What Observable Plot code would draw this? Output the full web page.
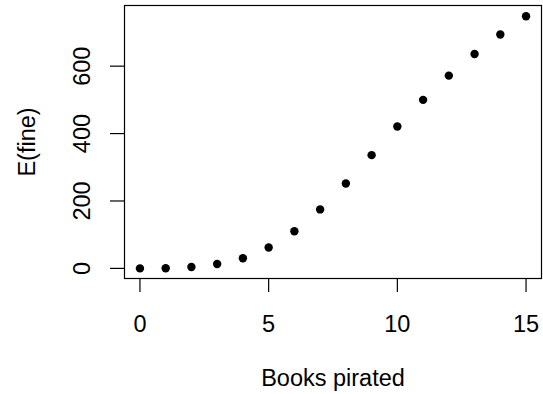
<!DOCTYPE html>
<html><head><meta charset="utf-8">
<script src="https://cdn.jsdelivr.net/npm/d3@7"></script>
<script src="https://cdn.jsdelivr.net/npm/@observablehq/plot@0.6"></script>
<style>body{margin:0;background:#fff}</style>
</head><body><div id="chart"></div>
<script>
const booksPirated = [0,1,2,3,4,5,6,7,8,9,10,11,12,13,14,15];
const expectedFine = [0,0.5,4,13,30,62,110,175,252,336,421,500,572,636,694,748];
const xTicks = [0,5,10,15];
const yTicks = [0,200,400,600];
const data = booksPirated.map((b,i)=>({b, f: expectedFine[i]}));
const font = "Liberation Sans, Arial, sans-serif";
const fs = 23.5;
const chart = Plot.plot({
  width: 543, height: 394,
  marginLeft: 124, marginRight: 2, marginTop: 5, marginBottom: 116,
  style: {fontFamily: font, background: "#fff", color: "#000"},
  x: {domain: [-0.6, 15.6]},
  y: {domain: [-30, 780]},
  marks: [
    Plot.frame({stroke: "#000", strokeWidth: 1.2}),
    Plot.axisX(xTicks, {tickSize: 14, tickPadding: 23, fontSize: fs, label: null, stroke: "#000", strokeWidth: 1.2}),
    Plot.axisY(yTicks, {tickSize: 14, text: null, label: null, stroke: "#000", strokeWidth: 1.2}),
    Plot.text(yTicks, {y: d=>d, text: d=>String(d), frameAnchor: "left", textAnchor: "middle", lineAnchor: "middle", dx: -42, rotate: -90, fontSize: fs, fill: "#000"}),
    Plot.text(["Books pirated"], {text: d=>d, frameAnchor: "bottom", textAnchor: "middle", lineAnchor: "middle", dy: 100, fontSize: fs, fill: "#000"}),
    Plot.text(["E(fine)"], {text: d=>d, frameAnchor: "left", textAnchor: "middle", lineAnchor: "middle", dx: -97, rotate: -90, fontSize: fs, fill: "#000"}),
    Plot.dot(data, {x: "b", y: "f", r: 4.2, fill: "#000", stroke: null})
  ]
});
document.getElementById("chart").append(chart);
</script></body></html>
